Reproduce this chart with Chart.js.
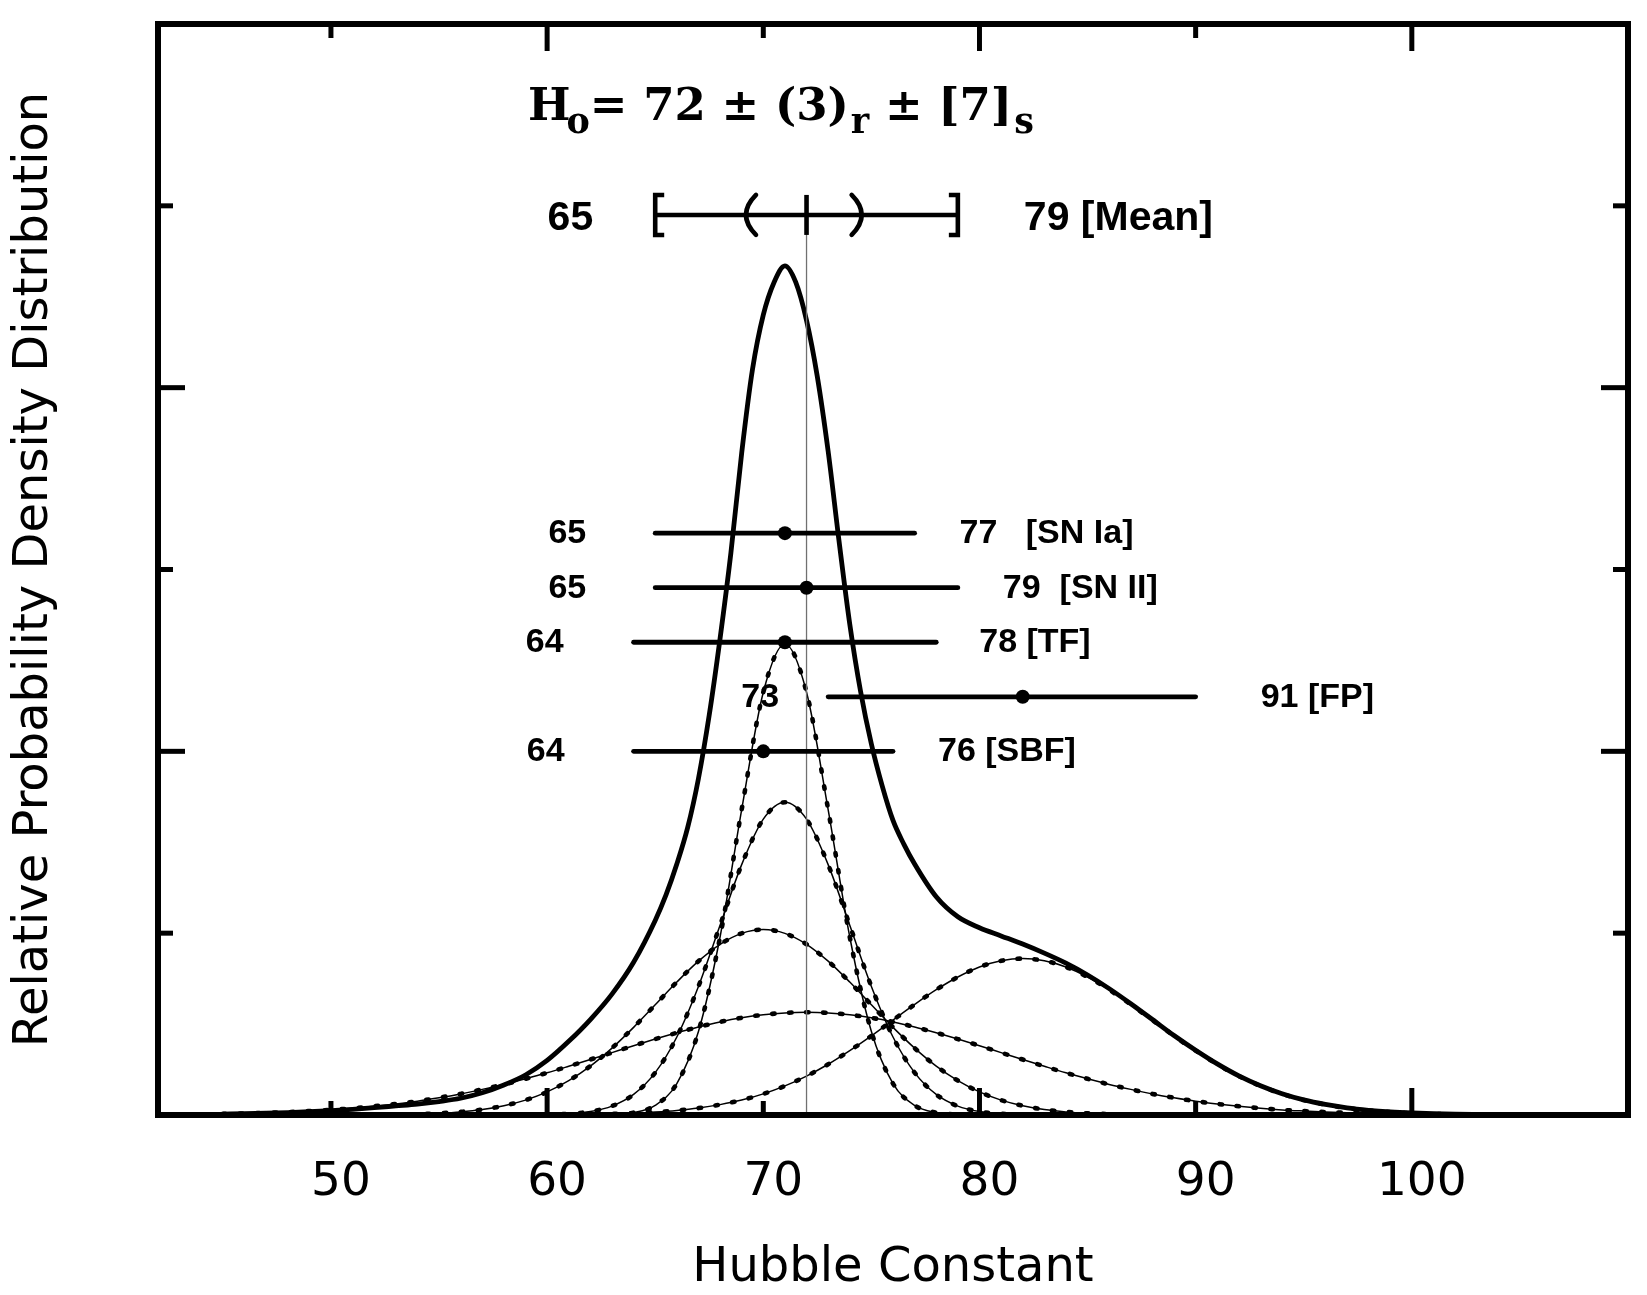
<!DOCTYPE html>
<html>
<head>
<meta charset="utf-8">
<script src="https://cdn.jsdelivr.net/npm/chart.js@4.4.1/dist/chart.umd.min.js"></script>
<style>
  html, body { margin: 0; padding: 0; background: #fff; overflow: hidden; }
  #wrap { width: 1647px; height: 1295px; }
  canvas { display: block; }
</style>
</head>
<body>
<div id="wrap"><canvas id="c"></canvas></div>
<script>
// Hubble constant grid used by the five method curves
const hubble = [45, 46, 47, 48, 49, 50, 51, 52, 53, 54, 55, 56, 57, 58, 59, 60, 61, 62, 63, 64, 65,
  66, 67, 68, 69, 70, 71, 72, 73, 74, 75, 76, 77, 78, 79, 80, 81, 82, 83, 84, 85, 86, 87, 88, 89, 90,
  91, 92, 93, 94, 95, 96, 97, 98, 99, 100, 101, 102, 103, 104, 105];

// relative probability of each method
const snIaCurve = [0, 0, 0, 0, 0, 0, 0, 0, 0, 0, 0, 0, 0, 0, 0, 0, 0,
  0.0004, 0.003, 0.013, 0.053, 0.173, 0.459, 0.979, 1.68, 2.325, 2.59, 2.325, 1.68, 0.979, 0.459,
  0.173, 0.053, 0.013, 0.003, 0.0004,
  0, 0, 0, 0, 0, 0, 0, 0, 0, 0, 0, 0, 0, 0, 0, 0, 0, 0, 0, 0, 0, 0, 0, 0, 0];
const tfCurve = [0, 0, 0, 0, 0, 0, 0, 0, 0, 0, 0, 0, 0, 0,
  0.0006, 0.002, 0.0066, 0.019, 0.049, 0.113, 0.233, 0.429, 0.707, 1.043, 1.377, 1.627, 1.72,
  1.627, 1.377, 1.043, 0.707, 0.429, 0.233, 0.113, 0.049, 0.019, 0.0066, 0.002, 0.0006,
  0, 0, 0, 0, 0, 0, 0, 0, 0, 0, 0, 0, 0, 0, 0, 0, 0, 0, 0, 0, 0, 0];
const sbfCurve = [0, 0, 0, 0, 0,
  0.0002, 0.0005, 0.0012, 0.0025, 0.0049, 0.0094, 0.017, 0.03, 0.051, 0.082, 0.127, 0.189, 0.269,
  0.368, 0.482, 0.606, 0.731, 0.846, 0.939, 0.999, 1.02, 0.999, 0.939, 0.846, 0.731, 0.606, 0.482,
  0.368, 0.269, 0.189, 0.127, 0.082, 0.051, 0.03, 0.017, 0.0094, 0.0049, 0.0025, 0.0012, 0.0005, 0.0002,
  0, 0, 0, 0, 0, 0, 0, 0, 0, 0, 0, 0, 0, 0, 0];
const snIICurve = [0.0063, 0.0087, 0.0119, 0.016, 0.0216, 0.028, 0.037, 0.048, 0.061, 0.076, 0.095,
  0.116, 0.141, 0.168, 0.199, 0.232, 0.268, 0.305, 0.343, 0.381, 0.4175, 0.452, 0.484, 0.512, 0.5345,
  0.551, 0.5615, 0.565, 0.5615, 0.551, 0.5345, 0.512, 0.484, 0.452, 0.4175, 0.381, 0.343, 0.305, 0.268,
  0.232, 0.199, 0.168, 0.141, 0.116, 0.095, 0.076, 0.061, 0.048, 0.037, 0.028, 0.0216, 0.016, 0.0119,
  0.0087, 0.0063, 0.0045, 0.0031, 0.0022, 0.0015, 0.001, 0.0007];
const fpCurve = [0, 0, 0, 0, 0, 0, 0, 0, 0, 0, 0, 0, 0,
  0.0003, 0.0006, 0.001, 0.0019, 0.0033, 0.0057, 0.0096, 0.016, 0.025, 0.038, 0.057, 0.082, 0.116,
  0.16, 0.214, 0.279, 0.354, 0.435, 0.522, 0.608, 0.689, 0.759, 0.814, 0.848, 0.86, 0.848, 0.814,
  0.759, 0.689, 0.608, 0.522, 0.435, 0.354, 0.279, 0.214, 0.16, 0.116, 0.082, 0.057, 0.038, 0.025,
  0.016, 0.0096, 0.0057, 0.0033, 0.0019, 0.001, 0.0006];

// combined distribution (finer sampling round the peak)
const totalX = [45, 46, 47, 48, 49, 50, 51, 52, 53, 54, 55, 56, 57, 58, 59, 60, 61, 62, 63, 64, 65,
  65.5, 66, 66.5, 67, 67.5, 68, 68.5, 69, 69.5, 70, 70.5, 71, 71.5, 72, 72.5, 73, 73.5, 74, 74.5, 75,
  75.5, 76, 76.5, 77, 78, 79, 80, 81, 82, 83, 84, 85, 86, 87, 88, 89, 90, 91, 92, 93, 94, 95, 96, 97, 98,
  99, 100, 101, 102, 103, 104, 105];
const totalY = [0.005, 0.007, 0.0095, 0.013, 0.018, 0.024, 0.031, 0.04, 0.05, 0.06, 0.074, 0.092,
  0.122, 0.165, 0.22, 0.3, 0.405, 0.525, 0.665, 0.84, 1.07,
  1.21, 1.38, 1.58, 1.85, 2.2, 2.62, 3.09, 3.64, 4.1, 4.4, 4.58, 4.67, 4.58, 4.37, 4.06, 3.65,
  3.16, 2.7, 2.33, 2.04, 1.81, 1.62, 1.49, 1.38, 1.2, 1.09, 1.03, 0.985, 0.94, 0.89, 0.835, 0.77,
  0.695, 0.612, 0.525, 0.437, 0.356, 0.281, 0.215, 0.161, 0.117, 0.083, 0.058, 0.039, 0.026, 0.017,
  0.011, 0.007, 0.004, 0.0025, 0.0015, 0.001];

// error bars of the individual methods
const methods = ['SN Ia', 'SN II', 'TF', 'FP', 'SBF'];
const methodRow = [3.2, 2.9, 2.6, 2.3, 2.0];
const methodLow = [65, 65, 64, 73, 64];
const methodHigh = [77, 79, 78, 90, 76];
const methodValue = [71, 72, 71, 82, 70];
const lowLabels = ['65', '65', '64', '73', '64'];
const highLabels = ['77', '79', '78', '91', '76'];

// weighted mean
const meanValue = 72;
const meanRow = 4.95;
const meanSystematic = [65, 79];
const meanRandom = [69.2, 74.55];
const meanLabels = ['65', '79 [Mean]'];
const titleMain = ['H', '= 72 \u00b1 (3)', ' \u00b1 [7]'];
const titleSubs = ['o', 'r', 's'];

const xTicks = [50, 60, 70, 80, 90, 100];
const yTicks = [1, 2, 3, 4, 5];

// label layout: pixel gaps from bar ends, spaces before the method name
const gapLeft = [69, 69, 70, 49, 69];
const gapRight = [45, 45, 43, 65, 45];
const nameSpacer = ['   ', '  ', ' ', ' ', ' '];

const pts = (xs, ys) => xs.map((x, i) => ({x: x, y: ys[i]}));

function curvePair(values) {
  return [
    {data: pts(hubble, values), borderColor: '#000', borderWidth: 1.5, pointRadius: 0,
      cubicInterpolationMode: 'monotone'},
    {data: pts(hubble, values), borderColor: '#000', borderWidth: 4.6, pointRadius: 0,
      borderDash: [2.5, 14.5], borderCapStyle: 'round', cubicInterpolationMode: 'monotone'}
  ];
}

const datasets = [];
methods.forEach((m, i) => {
  datasets.push({
    data: [{x: methodLow[i], y: methodRow[i]}, {x: methodHigh[i], y: methodRow[i]}],
    borderColor: '#000', borderWidth: 4.8, pointRadius: 0, borderCapStyle: 'round'
  });
});
datasets.push({
  data: methods.map((m, i) => ({x: methodValue[i], y: methodRow[i]})),
  showLine: false, pointRadius: 7, pointBackgroundColor: '#000', pointBorderWidth: 0
});
datasets.push({
  data: [{x: meanSystematic[0], y: meanRow}, {x: meanSystematic[1], y: meanRow}],
  borderColor: '#000', borderWidth: 4.6, pointRadius: 0
});
datasets.push({
  data: [{x: meanValue, y: 0}, {x: meanValue, y: meanRow}],
  borderColor: '#707070', borderWidth: 1.3, pointRadius: 0
});
datasets.push({
  data: pts(totalX, totalY), borderColor: '#000', borderWidth: 4.8, pointRadius: 0,
  cubicInterpolationMode: 'monotone'
});
[snIaCurve, tfCurve, sbfCurve, snIICurve, fpCurve].forEach(c => datasets.push(...curvePair(c)));

const decor = {
  id: 'decor',
  afterDraw(chart) {
    const {ctx, chartArea: a} = chart;
    const x = chart.scales.x, y = chart.scales.y;
    const seg = (x0, y0, x1, y1) => { ctx.beginPath(); ctx.moveTo(x0, y0); ctx.lineTo(x1, y1); ctx.stroke(); };
    ctx.save();
    ctx.strokeStyle = '#000';
    ctx.fillStyle = '#000';

    // frame and inward ticks on all four sides
    ctx.lineWidth = 6;
    ctx.strokeRect(a.left, a.top, a.right - a.left, a.bottom - a.top);
    ctx.lineWidth = 5;
    xTicks.forEach(v => {
      const px = x.getPixelForValue(v), len = v % 20 === 0 ? 27 : 14;
      seg(px, a.bottom, px, a.bottom - len);
      seg(px, a.top, px, a.top + len);
    });
    yTicks.forEach(v => {
      const py = y.getPixelForValue(v), len = v % 2 === 0 ? 27 : 15;
      seg(a.left, py, a.left + len, py);
      seg(a.right, py, a.right - len, py);
    });

    // mean bar: brackets, parentheses and centre tick
    const ym = y.getPixelForValue(meanRow);
    const h = 20;
    ctx.lineWidth = 4.6;
    ctx.lineJoin = 'miter';
    const xl = x.getPixelForValue(meanSystematic[0]), xr = x.getPixelForValue(meanSystematic[1]);
    ctx.beginPath(); ctx.moveTo(xl + 9, ym - h); ctx.lineTo(xl, ym - h); ctx.lineTo(xl, ym + h); ctx.lineTo(xl + 9, ym + h); ctx.stroke();
    ctx.beginPath(); ctx.moveTo(xr - 9, ym - h); ctx.lineTo(xr, ym - h); ctx.lineTo(xr, ym + h); ctx.lineTo(xr - 9, ym + h); ctx.stroke();
    const xc = x.getPixelForValue(meanValue);
    seg(xc, ym - h, xc, ym + h);
    ctx.lineCap = 'round';
    const bl = x.getPixelForValue(meanRandom[0]), br = x.getPixelForValue(meanRandom[1]);
    ctx.beginPath(); ctx.moveTo(bl + 10, ym - h); ctx.quadraticCurveTo(bl - 10, ym, bl + 10, ym + h); ctx.stroke();
    ctx.beginPath(); ctx.moveTo(br - 10, ym - h); ctx.quadraticCurveTo(br + 10, ym, br - 10, ym + h); ctx.stroke();

    ctx.textBaseline = 'alphabetic';
    ctx.font = 'bold 41px "Liberation Sans"';
    ctx.textAlign = 'right';
    ctx.fillText(meanLabels[0], xl - 62, ym + 15);
    ctx.textAlign = 'left';
    ctx.fillText(meanLabels[1], xr + 66, ym + 15);

    // method labels
    ctx.font = 'bold 34px "Liberation Sans"';
    methods.forEach((m, i) => {
      const py = y.getPixelForValue(methodRow[i]) + 10;
      ctx.textAlign = 'right';
      ctx.fillText(lowLabels[i], x.getPixelForValue(methodLow[i]) - gapLeft[i], py);
      ctx.textAlign = 'left';
      ctx.fillText(highLabels[i] + nameSpacer[i] + '[' + m + ']', x.getPixelForValue(methodHigh[i]) + gapRight[i], py);
    });

    // title  H_o = 72 ± (3)_r ± [7]_s
    const big = 'bold 45px "DejaVu Serif"', small = 'bold 35px "DejaVu Serif"';
    let tx = a.left + 370;
    const base = a.top + 96;
    ctx.textAlign = 'left';
    titleMain.forEach((t, i) => {
      ctx.font = big;
      ctx.fillText(t, tx, base);
      tx += ctx.measureText(t).width;
      ctx.font = small;
      const back = i === 0 ? 4 : -2;
      ctx.fillText(titleSubs[i], tx - back, base + 13);
      tx += ctx.measureText(titleSubs[i]).width - back;
    });
    ctx.restore();
  }
};

new Chart(document.getElementById('c'), {
  type: 'line',
  data: {datasets: datasets},
  options: {
    responsive: true,
    maintainAspectRatio: false,
    devicePixelRatio: 1,
    animation: false,
    layout: {padding: {top: 24, right: 19, left: 0, bottom: 0}},
    plugins: {legend: {display: false}, tooltip: {enabled: false}},
    elements: {line: {fill: false}},
    scales: {
      x: {
        type: 'linear', min: 42, max: 110,
        afterFit: s => { s.height = 180; s.paddingLeft = 0; s.paddingRight = 0; },
        grid: {display: false, drawTicks: false},
        border: {display: false},
        ticks: {
          stepSize: 10, autoSkip: false, maxRotation: 0, padding: 40, labelOffset: 10,
          color: '#000', font: {family: 'DejaVu Sans', size: 47},
          callback: v => xTicks.includes(v) ? String(v) : ''
        },
        title: {display: true, text: 'Hubble Constant', color: '#000',
          font: {family: 'DejaVu Sans', size: 48, lineHeight: 1.1}, padding: {top: 0, bottom: 0}}
      },
      y: {
        type: 'linear', min: 0, max: 6,
        afterFit: s => { s.width = 158; s.paddingTop = 0; s.paddingBottom = 0; },
        grid: {display: false, drawTicks: false},
        border: {display: false},
        ticks: {display: false, stepSize: 1},
        title: {display: true, text: 'Relative Probability Density Distribution', color: '#000',
          font: {family: 'DejaVu Sans', size: 48, lineHeight: 1.2}, padding: {top: 6, bottom: 0}}
      }
    }
  },
  plugins: [decor]
});
</script>
</body>
</html>
